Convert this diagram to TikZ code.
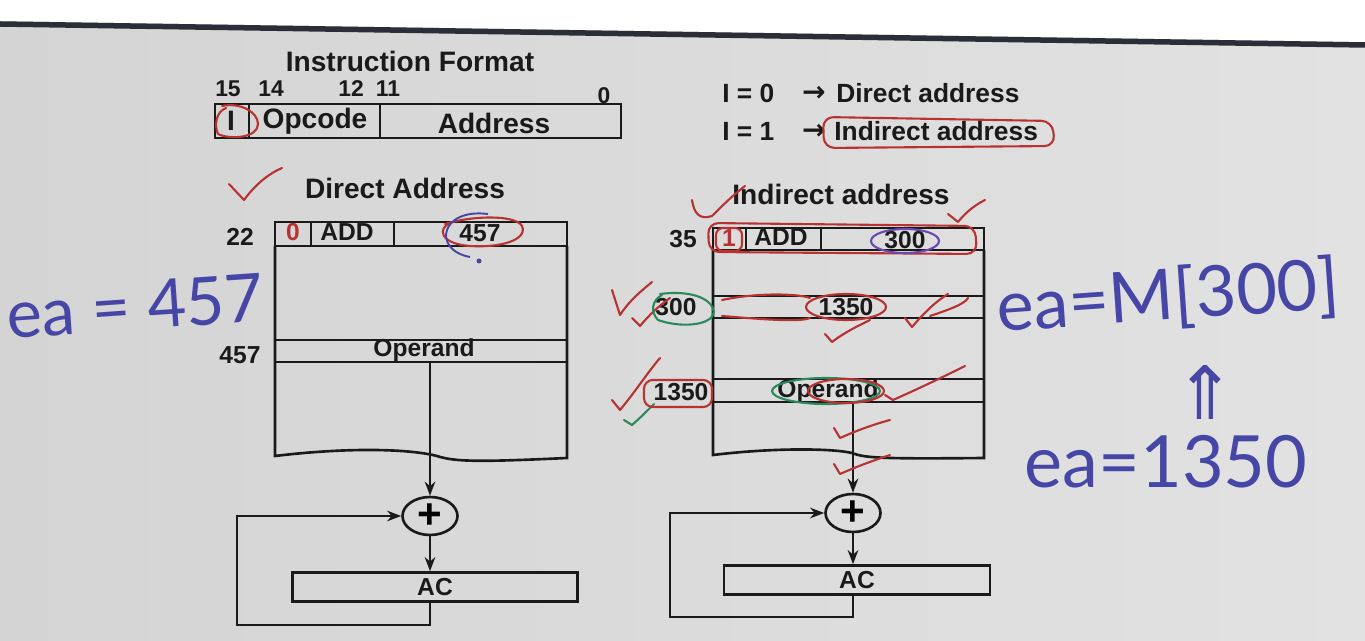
\documentclass[tikz,border=0pt]{standalone}
\usepackage{fontspec}
\setmainfont{Liberation Sans}
\newfontfamily\djv{DejaVu Sans}
\newfontfamily\handf{Lato}
\usetikzlibrary{shapes.geometric,arrows.meta,calc}
\newcommand\myfs[1]{\fontsize{#1}{#1}\selectfont}
\definecolor{ink}{HTML}{1A1A1A}
\definecolor{annred}{HTML}{B83232}
\definecolor{handblue}{HTML}{4646A6}
\definecolor{anngreen}{HTML}{2A8A5A}
\definecolor{annviolet}{HTML}{6A4AB0}
\definecolor{bgl}{HTML}{D4D4D4}
\definecolor{bgr}{HTML}{E2E2E2}
\definecolor{bezel}{HTML}{2A2E38}
\begin{document}
\begin{tikzpicture}[x=0.02cm,y=-0.02cm,
  lbl/.style={font=\bfseries\myfs{14}, text=ink, inner sep=0pt},
  ttl/.style={font=\bfseries\myfs{16}, text=ink, inner sep=0pt},
  leg/.style={font=\bfseries\myfs{15}, text=ink, inner sep=0pt},
  bits/.style={font=\bfseries\myfs{13}, text=ink, inner sep=0pt},
  box/.style={draw=ink, line width=1.5pt},
  arr/.style={draw=ink, line width=1.5pt, -{Stealth[length=8pt,width=6pt]}},
  sumnode/.style={ellipse, draw=ink, line width=1.5pt, minimum width=1.1cm, minimum height=0.76cm, inner sep=0pt, font=\bfseries\myfs{24}},
  acbox/.style={draw=ink, line width=1.5pt, minimum height=0.58cm, inner sep=0pt, font=\bfseries\myfs{14}, text=ink},
  hand/.style={text=handblue, font=\handf\myfs{38}, inner sep=0pt},
  redmark/.style={draw=annred, line width=1.2pt, line cap=round, line join=round},
  greenmark/.style={draw=anngreen, line width=1.2pt, line cap=round, line join=round},
]
\useasboundingbox (0,0) rectangle (1365,641);
\shade[left color=bgl, right color=bgr] (0,0) rectangle (1365,641);
\fill[white] (0,0) -- (1365,0) -- (1365,42) -- (0,21) -- cycle;
\draw[line width=0.11cm, draw=bezel] (0,24) -- (1365,45);

% ---------- instruction format ----------
\node[ttl] (ift) at (410,61) {Instruction Format};
\node[bits] (b15) at (228,89) {15};
\node[bits] (b14) at (271,89) {14};
\node[bits] (b12) at (351,89) {12};
\node[bits] (b11) at (388,89) {11};
\node[bits] (b0) at (604,96) {0};
\draw[box] (215,104) rectangle (621,138);
\draw[box] (249,104) -- (249,138);
\draw[box] (380,104) -- (380,138);
\node[ttl] (fI) at (231,121) {I};
\node[ttl] (fop) at (315,121) {Opcode};
\node[ttl] (fad) at (494,123) {Address};
\draw[redmark] (222,106) .. controls (240,102) and (258,112) .. (258,124) .. controls (258,138) and (230,140) .. (218,134) .. controls (214,125) and (216,112) .. (226,108);

% ---------- legend ----------
\node[leg, anchor=west] (l0) at (722,93) {I = 0};
\node[leg] (a0) at (814,94) {\djv\bfseries\myfs{16}→};
\node[leg, anchor=west] (d0) at (836,93) {Direct address};
\node[leg, anchor=west] (l1) at (722,131) {I = 1};
\node[leg] (a1) at (814,132) {\djv\bfseries\myfs{16}→};
\node[leg, anchor=west] (d1) at (834,131) {Indirect address};
\draw[redmark, rounded corners=6pt] (823,117) -- (1052,121) -- (1055,146) -- (824,148) -- cycle;

% ---------- direct address ----------
\node[ttl] (dtitle) at (405,188) {Direct Address};
\draw[redmark] (229,184) -- (244,200) .. controls (255,185) and (268,174) .. (282,168);
\node[lbl] (d22) at (240,237) {22};
\node[lbl] (d457) at (240,355) {457};
\draw[box] (275,222) rectangle (567,246);
\draw[box] (311,222) -- (311,246);
\draw[box] (394,222) -- (394,246);
\node[lbl, text=annred] (dI) at (293,232) {0};
\node[lbl] (dadd) at (347,232) {ADD};
\node[lbl] (daddr) at (480,233) {457};
\draw[box] (275,246) -- (275,456) .. controls (350,447) and (410,449) .. (437,456) .. controls (455,462) and (480,462) .. (567,458) -- (567,246);
\draw[box] (275,340) rectangle (567,362);
\node[lbl] (dop) at (424,350) {Operand};
\coordinate (dopb) at (430,362);
\node[sumnode] (dsum) at (430,516) {+};
\node[acbox, minimum width=5.7cm] (dac) at (435,587) {AC};
\draw[arr] (dopb) -- (dsum.north);
\draw[arr] (dsum.south) -- (dsum.south |- dac.north);
\draw[arr] (dsum.south |- dac.south) |- (237,625) |- (dsum.west);
\draw[redmark] (445,224) .. controls (470,216) and (515,214) .. (522,226) .. controls (528,240) and (500,248) .. (470,246) .. controls (440,244) and (436,228) .. (452,222);
\draw[draw=handblue, line width=1.1pt] (488,214) .. controls (440,208) and (432,250) .. (470,257);
\fill[handblue] (479,261) circle (2.5);

% ---------- indirect address ----------
\node[ttl] (ititle) at (841,194) {Indirect address};
\node[lbl] (i35) at (683,239) {35};
\node[lbl] (i300) at (676,307) {300};
\node[lbl] (i1350) at (681,392) {1350};
\draw[box] (713,228) rectangle (984,250);
\draw[box] (746,228) -- (746,250);
\draw[box] (821,228) -- (821,250);
\node[lbl, text=annred] (iI) at (729,238) {1};
\node[lbl] (iadd) at (781,237) {ADD};
\node[lbl] (iaddr) at (905,240) {300};
\draw[box] (713,250) -- (713,455) .. controls (770,448) and (830,448) .. (852,453) .. controls (865,458) and (880,459) .. (984,458) -- (984,250);
\draw[box] (713,296) rectangle (984,318);
\node[lbl] (iptr) at (846,307) {1350};
\draw[box] (713,379) rectangle (984,402);
\node[lbl] (iop) at (828,391) {Operand};
\coordinate (iopb) at (853,402);
\node[sumnode] (isum) at (853,513) {+};
\node[acbox, minimum width=5.32cm] (iac) at (857,580) {AC};
\draw[arr] (iopb) -- (isum.north);
\draw[arr] (isum.south) -- (isum.south |- iac.north);
\draw[arr] (isum.south |- iac.south) |- (670,617) |- (isum.west);

% red / green annotations on the indirect side
\draw[redmark] (692,200) .. controls (694,214) and (700,220) .. (712,216) .. controls (722,206) and (732,196) .. (745,186);
\draw[redmark] (948,214) -- (958,222) .. controls (966,212) and (975,205) .. (985,200);
\draw[redmark, rounded corners=6pt] (708,223) -- (975,226) -- (977,254) -- (709,252) -- cycle;
\draw[redmark, rounded corners=4pt] (716,228) rectangle (742,251);
\draw[draw=annviolet, line width=1.2pt] (905,241) ellipse (34 and 12);
\draw[redmark] (612,290) -- (620,315) .. controls (630,300) and (640,292) .. (652,282);
\draw[redmark] (632,318) -- (640,326) .. controls (650,314) and (660,305) .. (670,298);
\draw[greenmark] (660,294) .. controls (690,290) and (712,298) .. (714,312) .. controls (712,326) and (680,328) .. (658,320) .. controls (650,312) and (652,300) .. (662,295);
\draw[redmark] (722,300) .. controls (760,292) and (800,294) .. (810,298);
\draw[redmark] (722,316) .. controls (770,320) and (800,322) .. (810,318);
\draw[redmark] (846,307) ellipse (40 and 13);
\draw[redmark] (905,318) -- (912,327) .. controls (925,312) and (935,302) .. (948,294);
\draw[redmark] (930,316) .. controls (948,310) and (965,304) .. (968,298);
\draw[redmark] (825,334) -- (832,342) .. controls (845,332) and (858,326) .. (870,320);
\draw[redmark] (612,400) -- (620,410) .. controls (635,392) and (648,372) .. (660,358);
\draw[greenmark] (624,420) -- (632,425) .. controls (640,418) and (646,412) .. (654,404);
\draw[redmark, rounded corners=5pt] (644,380) rectangle (712,407);
\draw[greenmark] (826,391) ellipse (54 and 13);
\draw[redmark] (846,391) ellipse (38 and 12);
\draw[redmark] (885,395) -- (893,400) .. controls (920,388) and (945,376) .. (965,366);
\draw[redmark] (834,428) -- (840,438) .. controls (858,430) and (875,424) .. (890,420);
\draw[redmark] (834,464) -- (840,474) .. controls (858,466) and (875,460) .. (890,455);

% ---------- handwritten notes ----------
\node[hand, rotate=4] (hea1) at (135,306) {ea = 457};
\node[hand, rotate=4, font=\handf\myfs{40}] (hea2) at (1168,298) {ea=M[300]};
\node[hand, font=\djv\myfs{42}] (harr) at (1205,392) {⇑};
\node[hand, font=\handf\myfs{41}] (hea3) at (1166,462) {ea=1350};
\end{tikzpicture}
\end{document}
